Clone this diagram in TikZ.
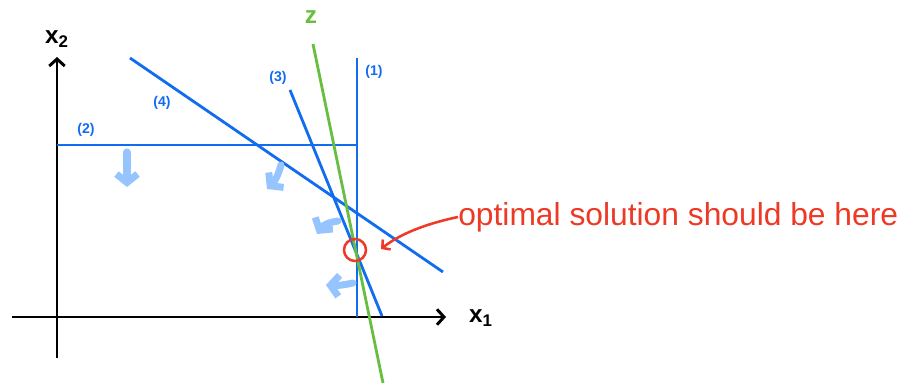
\documentclass[tikz,border=0pt]{standalone}
\usepackage{fontspec}
\setmainfont{Liberation Sans}
\usetikzlibrary{arrows.meta}

\definecolor{lpblue}{RGB}{18,108,240}
\definecolor{feasblue}{RGB}{150,196,255}
\definecolor{zgreen}{RGB}{104,190,64}
\definecolor{optred}{RGB}{236,58,38}

\begin{document}
\begin{tikzpicture}[
  x=0.025cm, y=-0.025cm,
  axes/.style={black, line width=2.1pt, -{Straight Barb[length=5pt,width=11pt,line width=2.1pt]}},
  constr/.style={lpblue, line width=2pt},
  objective/.style={zgreen, line width=2pt},
  side/.style={feasblue, line width=5pt, line cap=round,
    -{Straight Barb[length=6pt,width=15pt,line width=5pt]}},
  lbl/.style={lpblue, font=\bfseries\normalsize},
  remark/.style={optred, line width=1.8pt}]

  \useasboundingbox (0,0) rectangle (903,386);

  % axes
  \coordinate (xl) at (12,317);
  \coordinate (xr) at (446,317);
  \coordinate (yb) at (57,358);
  \coordinate (yt) at (57,57);
  \draw[axes] (xl) -- (xr);
  \draw[axes] (yb) -- (yt);
  \node[font=\bfseries\LARGE] (xone) at (481,318) {x\textsubscript{1}};
  \node[font=\bfseries\LARGE] (xtwo) at (57,39) {x\textsubscript{2}};

  % constraints
  \coordinate (c1a) at (357,58);   \coordinate (c1b) at (357,317);
  \coordinate (c2a) at (57,145);   \coordinate (c2b) at (357,145);
  \coordinate (c3a) at (290,90);   \coordinate (c3b) at (382,316);
  \coordinate (c4a) at (130,58);   \coordinate (c4b) at (443,272);
  \draw[constr] (c1a) -- (c1b);
  \draw[constr] (c2a) -- (c2b);
  \draw[constr] (c3a) -- (c3b);
  \draw[constr] (c4a) -- (c4b);
  \node[lbl] (l1) at (374,72) {(1)};
  \node[lbl] (l2) at (86,130) {(2)};
  \node[lbl] (l3) at (278,78) {(3)};
  \node[lbl] (l4) at (162,103) {(4)};

  % objective
  \coordinate (za) at (313,44);
  \coordinate (zb) at (383,383);
  \draw[objective] (za) -- (zb);
  \node[zgreen, font=\bfseries\LARGE] (zl) at (311,17) {z};

  % feasible sides
  \coordinate (s2a) at (127,152);  \coordinate (s2b) at (127,187);
  \coordinate (s4a) at (281,165);  \coordinate (s4b) at (267,189);
  \coordinate (s3a) at (338,221);  \coordinate (s3b) at (317,234);
  \coordinate (s1a) at (353,283);  \coordinate (s1b) at (326,285);
  \draw[side] (s2a) -- (s2b);
  \draw[side] (s4a) to[bend left=15] (s4b);
  \draw[side] (s3a) to[bend right=25] (s3b);
  \draw[side] (s1a) to[bend left=8] (s1b);

  % optimum
  \node[remark, draw, circle, minimum size=0.55cm, inner sep=0pt] (opt) at (355,250) {};
  \node[optred, font=\fontsize{22.6}{27}\selectfont, anchor=west, inner sep=0pt] (sol) at (458,217)
    {optimal solution should be here};
  \draw[remark, -{Straight Barb[length=4pt,width=9pt]}] (sol.west)
    .. controls (425,224) and (400,234) .. (381,249);
\end{tikzpicture}
\end{document}
